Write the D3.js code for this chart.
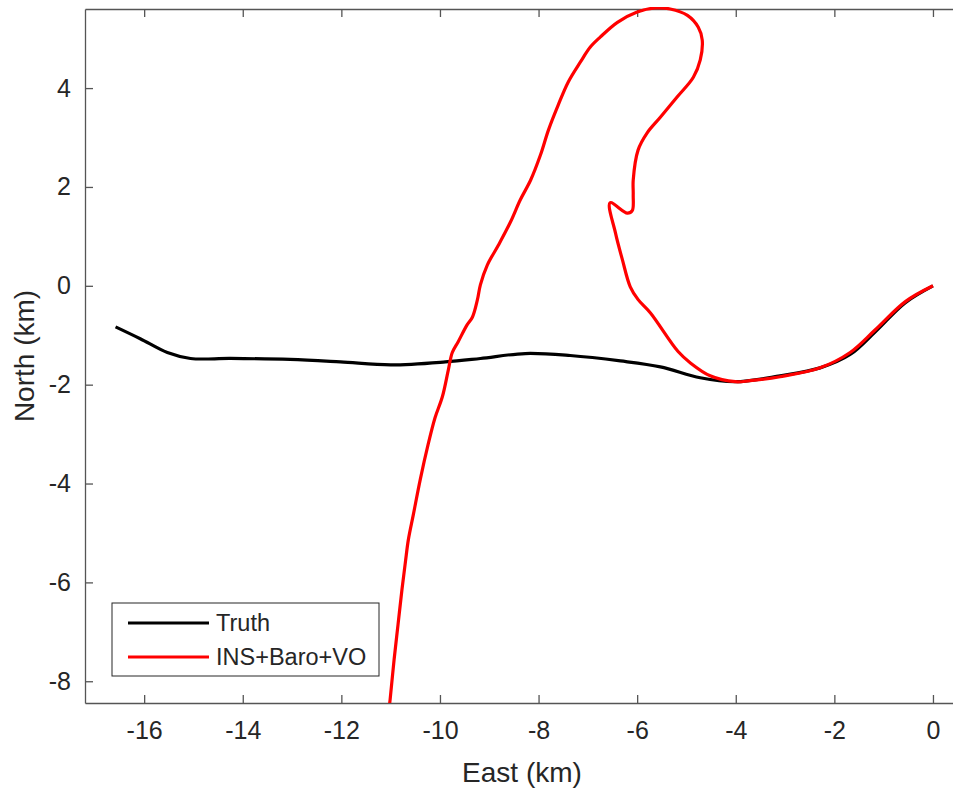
<!DOCTYPE html>
<html>
<head>
<meta charset="utf-8">
<script src="https://cdn.jsdelivr.net/npm/d3@7.9.0/dist/d3.min.js"></script>
<style>
  body { margin: 0; background: #fff; }
  text { font-family: "Liberation Sans", Arial, sans-serif; fill: #262626; }
</style>
</head>
<body>
<div id="chart"></div>
<script>
// Truth trajectory (East km, North km)
const truthEast = [-16.58, -16.08, -15.53, -15.06, -14.25, -13.04, -12.02, -11.0, -9.89, -9.18, -8.27, -7.36, -6.34, -5.53, -4.72, -4.01, -3.10, -2.29, -1.68, -1.17, -0.56, 0];
const truthNorth = [-0.83, -1.07, -1.35, -1.47, -1.47, -1.49, -1.54, -1.60, -1.54, -1.47, -1.37, -1.41, -1.52, -1.64, -1.86, -1.94, -1.82, -1.66, -1.39, -0.93, -0.34, 0];

// INS+Baro+VO estimate
const insEast = [0, -0.56, -1.17, -1.68, -2.29, -3.10, -3.71, -4.01, -4.52, -4.92, -5.17, -5.73, -5.98, -6.14, -6.30, -6.44, -6.55, -6.20, -6.10, -6.08, -6.08, -5.98, -5.80, -5.53, -5.19, -4.86, -4.72, -4.68, -4.76, -4.98, -5.33, -5.63, -6.00, -6.40, -6.75, -6.95, -7.15, -7.40, -7.60, -7.80, -7.96, -8.16, -8.37, -8.57, -8.81, -9.04, -9.18, -9.24, -9.34, -9.45, -9.63, -9.75, -9.83, -9.95, -10.10, -10.24, -10.40, -10.54, -10.64, -10.70, -10.77, -10.85, -10.93, -11.01, -11.05];
const insNorth = [0, -0.32, -0.89, -1.35, -1.66, -1.84, -1.92, -1.94, -1.82, -1.56, -1.33, -0.55, -0.28, -0.02, 0.53, 1.07, 1.68, 1.47, 1.52, 1.84, 2.14, 2.75, 3.09, 3.41, 3.82, 4.22, 4.57, 4.97, 5.23, 5.47, 5.60, 5.62, 5.54, 5.33, 5.03, 4.83, 4.53, 4.12, 3.66, 3.15, 2.65, 2.14, 1.74, 1.29, 0.83, 0.42, 0.02, -0.28, -0.63, -0.79, -1.13, -1.35, -1.70, -2.24, -2.67, -3.21, -3.92, -4.63, -5.13, -5.58, -6.14, -6.85, -7.56, -8.36, -8.7];

const xTicks = [-16, -14, -12, -10, -8, -6, -4, -2, 0];
const yTicks = [-8, -6, -4, -2, 0, 2, 4];

const seriesNames = ['Truth', 'INS+Baro+VO'];
const seriesColors = ['#000000', '#ff0000'];

const width = 953, height = 793;
const plot = { left: 85, top: 9, bottom: 703, right: 960 };

const svg = d3.select('#chart').append('svg')
  .attr('width', width).attr('height', height);

const xScale = d3.scaleLinear().domain([-17.2, 0.55]).range([plot.left, plot.left + 17.75 * 49.3]);
const yScale = d3.scaleLinear().domain([-8.44, 5.6]).range([plot.bottom, plot.top]);

svg.append('defs').append('clipPath').attr('id', 'clip')
  .append('rect')
  .attr('x', plot.left).attr('y', plot.top - 2)
  .attr('width', plot.right - plot.left).attr('height', plot.bottom - plot.top + 2);

const axisColor = '#555';
const fmt = d => String(d); // plain hyphen minus, like the original

// axes
const xAxis = svg.append('g')
  .attr('transform', `translate(0,${plot.bottom})`)
  .call(d3.axisBottom(xScale).tickValues(xTicks).tickFormat(fmt).tickSizeInner(-8).tickSizeOuter(0).tickPadding(18));
const xTop = svg.append('g')
  .attr('transform', `translate(0,${plot.top})`)
  .call(d3.axisTop(xScale).tickValues(xTicks).tickSizeInner(-8).tickSizeOuter(0).tickFormat(''));
const yAxis = svg.append('g')
  .attr('transform', `translate(${plot.left},0)`)
  .call(d3.axisLeft(yScale).tickValues(yTicks).tickFormat(fmt).tickSizeInner(-8).tickSizeOuter(0).tickPadding(14));

[xAxis, xTop, yAxis].forEach(g => {
  g.select('.domain').attr('stroke', axisColor).attr('stroke-width', 1.3);
  g.selectAll('.tick line').attr('stroke', axisColor).attr('stroke-width', 1.3);
  g.selectAll('.tick text')
    .style('font-family', '"Liberation Sans", Arial, sans-serif')
    .style('font-size', '25px')
    .attr('fill', '#262626');
});

// data lines
const line = d3.line()
  .x(d => xScale(d[0])).y(d => yScale(d[1]))
  .curve(d3.curveCatmullRom.alpha(0.5));
const truth = truthEast.map((e, i) => [e, truthNorth[i]]);
const ins = insEast.map((e, i) => [e, insNorth[i]]);

const lines = svg.append('g').attr('clip-path', 'url(#clip)');
lines.append('path').datum(truth)
  .attr('d', line).attr('fill', 'none')
  .attr('stroke', seriesColors[0]).attr('stroke-width', 3.2)
  .attr('stroke-linejoin', 'round');
lines.append('path').datum(ins)
  .attr('d', line).attr('fill', 'none')
  .attr('stroke', seriesColors[1]).attr('stroke-width', 3.2)
  .attr('stroke-linejoin', 'round');

// axis labels
svg.append('text')
  .attr('x', 522).attr('y', 782)
  .attr('text-anchor', 'middle')
  .style('font-size', '28px')
  .text('East (km)');
svg.append('text')
  .attr('transform', `translate(34,${(plot.top + plot.bottom) / 2}) rotate(-90)`)
  .attr('text-anchor', 'middle')
  .style('font-size', '28px')
  .text('North (km)');

// legend
const legend = svg.append('g');
legend.append('rect')
  .attr('x', 112).attr('y', 603).attr('width', 267).attr('height', 73)
  .attr('fill', '#fff').attr('stroke', '#262626').attr('stroke-width', 1);
seriesNames.forEach((name, i) => {
  const y = 623 + i * 34;
  legend.append('line')
    .attr('x1', 128).attr('x2', 209).attr('y1', y).attr('y2', y)
    .attr('stroke', seriesColors[i]).attr('stroke-width', 3.2);
  legend.append('text')
    .attr('x', 216).attr('y', y + 8)
    .style('font-size', '23.5px')
    .text(name);
});
</script>
</body>
</html>
